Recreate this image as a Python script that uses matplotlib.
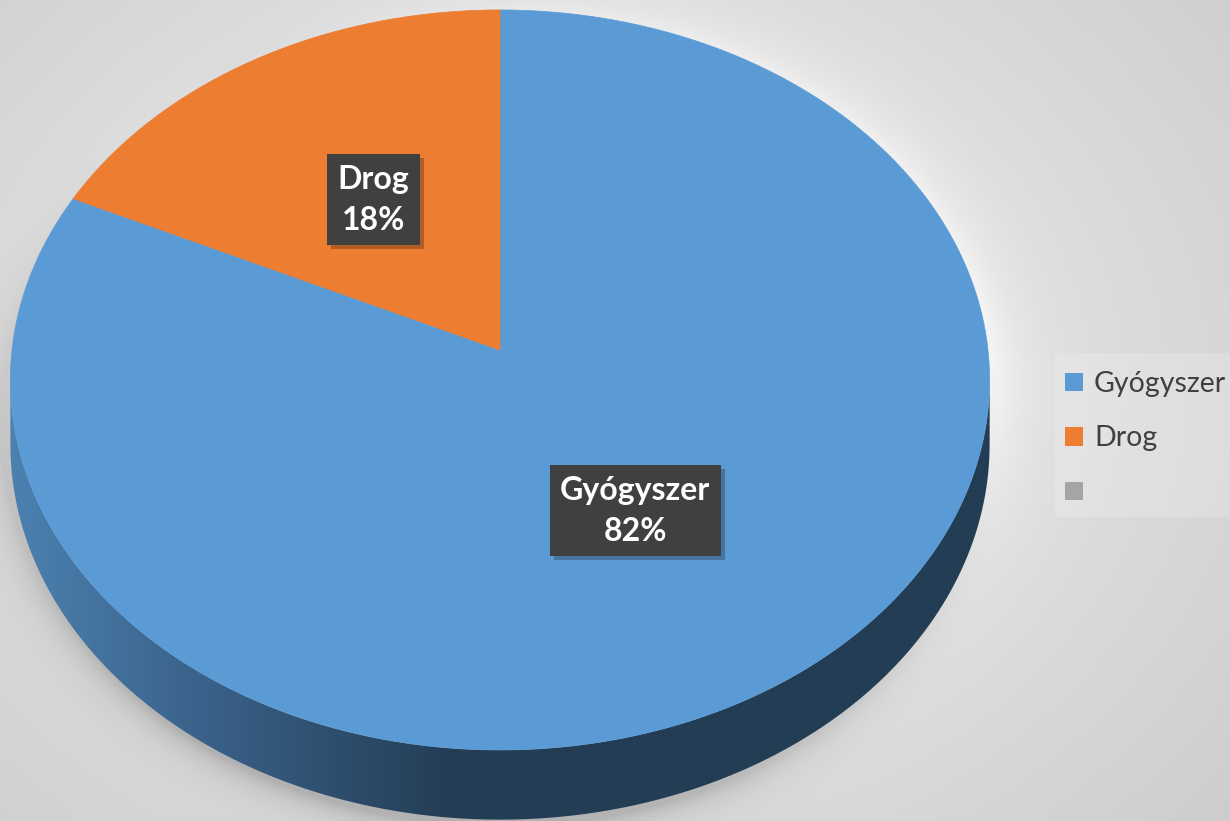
import numpy as np
import matplotlib
matplotlib.use("Agg")
import matplotlib.pyplot as plt
from matplotlib.patches import Polygon, Patch, Rectangle

# ---- data ----
categories = ["Gyógyszer", "Drog", ""]
values = [82, 18, 0]
colors = ["#5B9BD5", "#ED7D31", "#A5A5A5"]
pct_labels = ["82%", "18%", ""]

plt.rcParams['font.family'] = ['Lato', 'DejaVu Sans']

W, H = 1230, 821
fig = plt.figure(figsize=(12.3, 8.21), dpi=100)
ax = fig.add_axes([0, 0, 1, 1])
ax.set_xlim(0, W)
ax.set_ylim(H, 0)
ax.axis("off")

# ---- projection of the tilted disk ----
CX, CY = 500.0, 350.0
A, B, K = 488.0, 367.6, 0.081
DEPTH = 64.0

def proj(X, Y, depth=0.0):
    w = 1.0 - K * Y
    return CX + A * X / w, CY + B * Y / w + depth / w

def outline(phi0, phi1, n=200, r=1.0, depth=0.0):
    ph = np.radians(np.linspace(phi0, phi1, n))
    return proj(r * np.sin(ph), -r * np.cos(ph), depth)

# ---- background ----
yy, xx = np.mgrid[0:H, 0:W].astype(float)
d = np.hypot((xx - 560) / 900.0, (yy - 380) / 700.0)
bg = 244 - 40 * np.clip(d, 0, 1.2)
rho = np.hypot((xx - 500) / 500.0, (yy - 420) / 405.0)
ang = np.arctan2(yy - 420, xx - 500)
out = np.clip(rho - 1.0, 0, None)
lowleft = np.clip(np.sin(ang) * 0.8 - np.cos(ang) * 0.2 + 0.3, 0, 1)
bg -= 40 * np.exp(-out / 0.035) * lowleft * (rho > 0.98)
upright = np.clip(-np.sin(ang) * 0.5 + np.cos(ang) * 0.8, 0, 1)
bg += 22 * np.exp(-out / 0.06) * upright * (rho > 0.98)
bg = np.clip(bg, 0, 255) / 255.0
ax.imshow(np.dstack([bg, bg, bg]), extent=[0, W, H, 0], zorder=0, aspect="auto")

# legend panel
ax.add_patch(Rectangle((1055, 353), 175, 164, fc="white", ec="none", alpha=0.18, zorder=1))

# ---- side of the pie ----
phL = np.degrees(np.arccos(-K))
top_x, top_y = outline(phL, 360 - phL)
bot_x, bot_y = outline(360 - phL, phL, depth=DEPTH)
side = Polygon(np.column_stack([np.r_[top_x, bot_x], np.r_[top_y, bot_y]]),
               closed=True, fc="none", ec="none", zorder=2)
ax.add_patch(side)
gx = np.linspace(0, W, 600)
stops_x = [0, 30, 200, 450, W]
stops_c = np.array([[78, 132, 178], [74, 126, 172], [58, 98, 138], [36, 61, 85], [35, 61, 84]]) / 255.0
grad = np.stack([np.interp(gx, stops_x, stops_c[:, i]) for i in range(3)], axis=-1)
im = ax.imshow(grad[None, :, :], extent=[0, W, H, 0], aspect="auto", zorder=2)
im.set_clip_path(side)

# ---- top face slices ----
total = sum(values)
start = 0.0
mids = []
for v, c in zip(values, colors):
    if v <= 0:
        mids.append(None)
        continue
    span = 360.0 * v / total
    ox, oy = outline(start, start + span)
    poly = Polygon(np.column_stack([np.r_[CX, ox], np.r_[CY, oy]]), closed=True,
                   fc=c, ec=c, lw=0.5, zorder=3)
    ax.add_patch(poly)
    mids.append(start + span / 2)
    start += span

# ---- data labels ----
label_texts = []
for cat, pl, m in zip(categories, pct_labels, mids):
    if m is None:
        continue
    phr = np.radians(m)
    lx, ly = proj(0.5 * np.sin(phr), -0.5 * np.cos(phr))
    t = ax.text(lx, ly, f"{cat}\n{pl}", ha="center", va="center", fontsize=23,
                fontweight="bold", color="white", linespacing=1.5,
                bbox=dict(boxstyle="square,pad=0.33", fc="#404040", ec="none"),
                zorder=5)
    label_texts.append(t)

fig.canvas.draw()
inv = ax.transData.inverted()
for t in label_texts:
    ext = t.get_bbox_patch().get_window_extent()
    (x0, y0), (x1, y1) = inv.transform([[ext.x0, ext.y0], [ext.x1, ext.y1]])
    xa, xb = sorted([x0, x1])
    ya, yb = sorted([y0, y1])
    ax.add_patch(Rectangle((xa + 4, ya + 4), xb - xa, yb - ya, fc="black",
                           ec="none", alpha=0.25, zorder=4))

# ---- legend ----
handles = [Patch(fc=c, ec="none") for c in colors]
fig.legend(handles, categories, loc="upper left", bbox_to_anchor=(1065 / W, 1 - 371 / H),
           frameon=False, fontsize=20.5, handlelength=0.62, handleheight=0.62,
           handletextpad=0.4, labelspacing=1.0, labelcolor="#404040",
           borderaxespad=0, borderpad=0)

fig.savefig("out.png", dpi=100)
